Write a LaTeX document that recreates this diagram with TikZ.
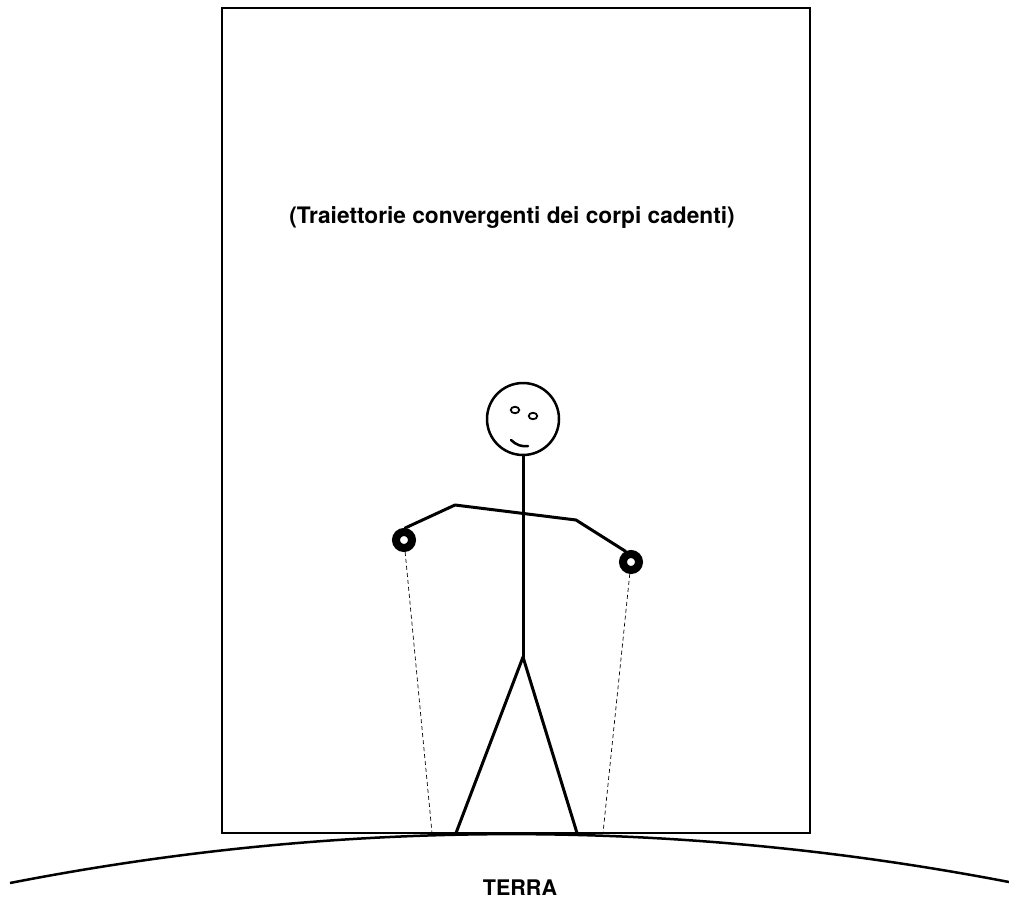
\documentclass[tikz,border=0pt]{standalone}
\usepackage{fontspec}
\setsansfont{TeX Gyre Heros}
\usetikzlibrary{shapes.geometric}

\tikzstyle{frame} = [draw, line width=2.5pt]
\tikzstyle{limb} = [draw, line width=3pt, line cap=round, line join=round]
\tikzstyle{head} = [circle, draw, line width=2.5pt, minimum size=72pt, inner sep=0pt]
\tikzstyle{eye} = [ellipse, draw, line width=1.8pt, minimum width=8.5pt, minimum height=6.5pt, inner sep=0pt]
\tikzstyle{weight} = [circle, draw, line width=8pt, minimum size=16pt, inner sep=0pt]
\tikzstyle{fall} = [draw, line width=0.7pt, dash pattern=on 4pt off 3pt]
\tikzstyle{caption} = [font=\sffamily\bfseries\fontsize{22.7}{26}\selectfont, inner sep=0pt]
\tikzstyle{earth} = [font=\sffamily\bfseries\fontsize{21.5}{24}\selectfont, inner sep=0pt]

\begin{document}
\begin{tikzpicture}[x=1pt,y=-1pt]
    \useasboundingbox (0,0) rectangle (1009,899);

    % Box and caption
    \draw[frame] (222,8) rectangle (810,833);
    \node[caption] (title) at (512,218) {(Traiettorie convergenti dei corpi cadenti)};

    % Place the figure
    \node[head] (head) at (523,419) {};
    \node[eye] (eyeL) at (515,410) {};
    \node[eye] (eyeR) at (533,416) {};
    \coordinate (smileL) at (511,440);
    \coordinate (smileR) at (528,446);
    \coordinate (shoulderL) at (455,505);
    \coordinate (shoulderR) at (576,520);
    \coordinate (hip) at (523,657);
    \coordinate (footL) at (456,833);
    \coordinate (footR) at (577,833);
    \node[weight] (handL) at (404,540) {};
    \node[weight] (handR) at (631,562) {};
    \coordinate (landL) at (432,833);
    \coordinate (landR) at (603,833);

    % Draw the figure
    \draw[line width=2.5pt, line cap=round] (smileL) .. controls (516,445) and (522,447) .. (smileR);
    \draw[limb] (head.south) -- (hip);
    \draw[limb] (handL.85) -- (shoulderL) -- (shoulderR) -- (handR.117);
    \draw[limb] (footL) -- (hip) -- (footR);

    % Falling bodies
    \path[fall] (handL) -- (landL);
    \path[fall] (handR) -- (landR);

    % Ground
    \coordinate (groundL) at (10,883);
    \coordinate (groundR) at (1009,882);
    \draw[line width=2.5pt] (groundL) .. controls (343,818) and (676,818) .. (groundR);
    \node[earth, anchor=base] (terra) at (520,895) {TERRA};
\end{tikzpicture}
\end{document}
